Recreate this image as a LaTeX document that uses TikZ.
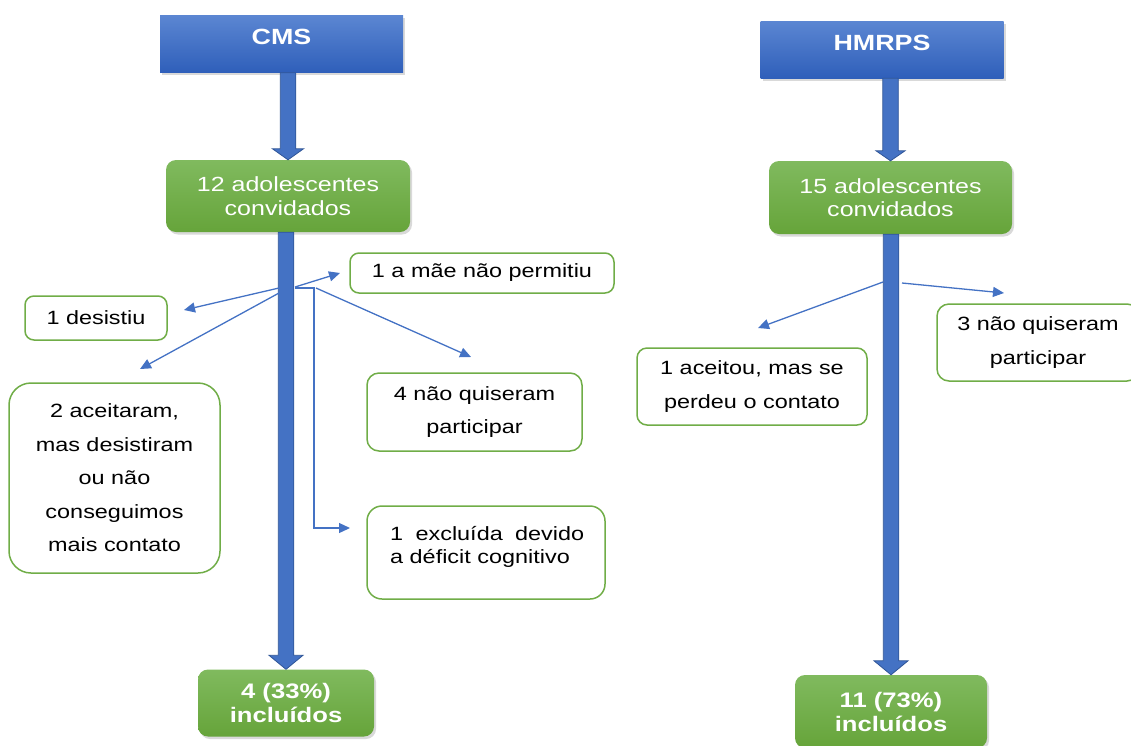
\documentclass[tikz,border=0pt]{standalone}
\usepackage{fontspec}
\setmainfont{Liberation Sans}[FakeStretch=1.22]
\usetikzlibrary{arrows.meta,shadows,calc}
\definecolor{hdrtop}{HTML}{5B86D2}
\definecolor{hdrbot}{HTML}{2F5FBA}
\definecolor{grntop}{HTML}{80BA5E}
\definecolor{grnbot}{HTML}{66A43A}
\definecolor{arrblue}{HTML}{4472C4}
\definecolor{arrborder}{HTML}{2F5597}
\definecolor{boxgreen}{HTML}{70AD47}
\tikzset{
  header/.style={rectangle, top color=hdrtop, bottom color=hdrbot, draw=none,
    minimum width=243pt, minimum height=57pt, inner sep=0pt,
    drop shadow={shadow xshift=2pt,shadow yshift=-2.5pt,opacity=0.3}},
  hdrtext/.style={text=white, font=\bfseries\fontsize{22}{26}\selectfont, yshift=7pt},
  greenbox/.style={rectangle, rounded corners=10pt, top color=grntop, bottom color=grnbot,
    text=white, align=center, inner sep=0pt,
    drop shadow={shadow xshift=2pt,shadow yshift=-2.5pt,opacity=0.3},
    font=\fontsize{20.5}{23.5}\selectfont},
  resultbox/.style={greenbox, font=\bfseries\fontsize{21}{24}\selectfont},
  smallbox/.style={rectangle, draw=boxgreen, line width=1.5pt, fill=white,
    rounded corners=9pt, align=center, inner sep=0pt,
    font=\fontsize{19.2}{33.5}\selectfont},
  conn/.style={draw=arrblue, line width=1.3pt, -{Triangle[length=11pt,width=10pt]}},
  bigarrow/.style={fill=arrblue, draw=arrborder, line width=0.8pt},
}
\newcommand{\blockarrow}[4]{%
  \path[bigarrow] let \p1=(#1), \p2=(#2) in
    (\x2-7.75pt,\y1) -- (\x2+7.75pt,\y1) -- (\x2+7.75pt,\y2+#4) -- (\x2+#3,\y2+#4)
    -- (\x2,\y2) -- (\x2-#3,\y2+#4) -- (\x2-7.75pt,\y2+#4) -- cycle;}
\begin{document}
\begin{tikzpicture}[x=1pt,y=-1pt]
\useasboundingbox (0,0) rectangle (1131,745);

% headers
\node[header, label={[hdrtext]center:CMS}] (cms) at (281.5,44) {};
\node[header, label={[hdrtext]center:HMRPS}] (hmrps) at (882,49.5) {};

% green boxes
\node[greenbox, minimum width=244pt, minimum height=72pt] (inv1) at (288,196) {12 adolescentes\\convidados};
\node[greenbox, minimum width=243pt, minimum height=73pt] (inv2) at (890.5,197.5) {15 adolescentes\\convidados};
\node[resultbox, minimum width=176pt, minimum height=67pt] (res1) at (286,703) {4 (33\%)\\incluídos};
\node[resultbox, minimum width=192pt, minimum height=73pt] (res2) at (891,711.5) {11 (73\%)\\incluídos};

% block arrows
\blockarrow{cms.south}{inv1.north}{15.5pt}{11pt}
\blockarrow{inv1.south}{res1.north}{17pt}{14pt}
\blockarrow{hmrps.south}{inv2.north}{14.5pt}{10pt}
\blockarrow{inv2.south}{res2.north}{17pt}{14pt}

% small boxes (left)
\node[smallbox, minimum width=264pt, minimum height=40pt] (mae) at (482,273) {1 a mãe não permitiu};
\node[smallbox, minimum width=142pt, minimum height=44pt] (desist) at (96,318) {1 desistiu};
\node[smallbox, rounded corners=22pt, minimum width=211pt, minimum height=190pt] (aceit) at (114.5,478)
  {2 aceitaram,\\mas desistiram\\ou não\\conseguimos\\mais contato};
\node[smallbox, rounded corners=12pt, minimum width=215pt, minimum height=78pt] (naoq) at (474.5,412)
  {4 não quiseram\\participar};
\node[smallbox, rounded corners=15pt, minimum width=238pt, minimum height=93pt] (excl) at (486,552.5) {};
\node[anchor=west, align=left, inner sep=0pt, font=\fontsize{19.2}{23}\selectfont] (excltext) at (390,546.5)
  {\makebox[194pt][l]{1\hfill excluída\hfill devido}\\a déficit cognitivo};

% small boxes (right)
\node[smallbox, rounded corners=10pt, minimum width=230pt, minimum height=77pt] (acc) at (752,386.5)
  {1 aceitou, mas se\\perdeu o contato};
\node[smallbox, rounded corners=12pt, minimum width=202pt, minimum height=77pt] (nq2) at (1038,342.5)
  {3 não quiseram\\participar};

% connector coordinates
\coordinate (b1) at (279,288);
\coordinate (b2) at (279,293);
\coordinate (b3) at (295,287);
\coordinate (b4) at (295,288);
\coordinate (b5) at (316,288);
\coordinate (e1) at (184,310);
\coordinate (e2) at (140,369);
\coordinate (e3) at (340,273);
\coordinate (e4) at (350,528);
\coordinate (e5) at (471,357);
\coordinate (r1) at (883,282);
\coordinate (r2) at (902,283);
\coordinate (f1) at (758,328);
\coordinate (f2) at (1004,293);

\draw[conn] (b1) -- (e1);
\draw[conn] (b2) -- (e2);
\draw[conn] (b3) -- (e3);
\draw[conn] (b4) -- ++(19,0) |- (e4);
\draw[conn] (b5) -- (e5);
\draw[conn] (r1) -- (f1);
\draw[conn] (r2) -- (f2);
\end{tikzpicture}
\end{document}
